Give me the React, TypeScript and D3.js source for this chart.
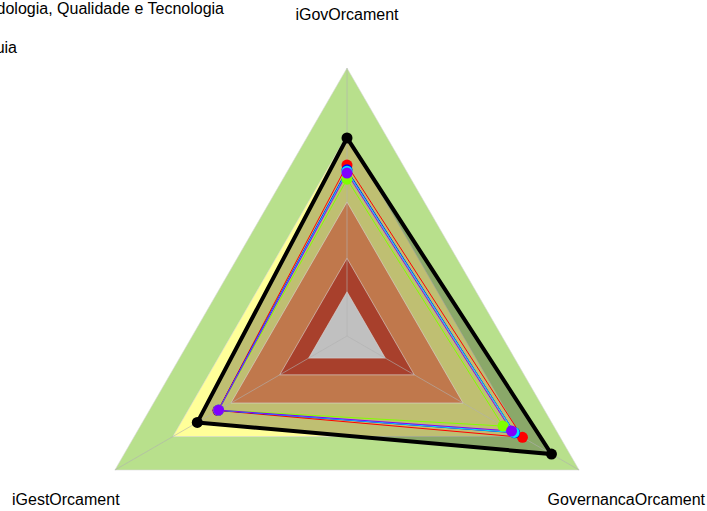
import React, { useEffect, useRef } from "react";
import * as d3 from "d3";

const axes = ["iGovOrcament", "GovernancaOrcament", "iGestOrcament"];

// background bands (outer limit of each band, 0..1)
const bandLimits = [1.0, 0.75, 0.5, 0.29, 0.165];
const bandColors = ["#b8e08c", "#ffff99", "#c0784c", "#a8402c", "#c0c0c0"];

const seriesNames = ["Geral", "s1", "s2", "s3", "s4", "s5"];
const seriesColors = ["#000000", "#ff0000", "#0000ff", "#00e0ff", "#8000ff", "#80ff00"];
const seriesValues = [
  [0.739, 0.881, 0.645],
  [0.638, 0.756, 0.556],
  [0.62, 0.722, 0.555],
  [0.615, 0.72, 0.553],
  [0.608, 0.709, 0.553],
  [0.585, 0.672, 0.553],
];

const legendLabels = ["Metodologia, Qualidade e Tecnologia", "Ouvidoria e Guia"];

const App = () => {
  const ref = useRef<SVGSVGElement>(null);

  useEffect(() => {
    const width = 707;
    const height = 511;
    const cx = 347;
    const cy = 336;
    const R = 268;

    const svg = d3.select(ref.current);
    svg.selectAll("*").remove();
    svg.attr("width", width).attr("height", height);

    const r = d3.scaleLinear().domain([0, 1]).range([0, R]);
    const angle = d3
      .scaleLinear()
      .domain([0, axes.length])
      .range([0, 2 * Math.PI]);

    const pt = (v: number, i: number): [number, number] => [
      cx + r(v) * Math.sin(angle(i)),
      cy - r(v) * Math.cos(angle(i)),
    ];
    const poly = (vals: number[]) =>
      d3.line<number>()
        .x((v, i) => pt(v, i)[0])
        .y((v, i) => pt(v, i)[1])
        .curve(d3.curveLinearClosed)(vals);

    const g = svg.append("g");

    const drawBand = (k: number) =>
      g
        .append("path")
        .attr("d", poly(axes.map(() => bandLimits[k])))
        .attr("fill", bandColors[k])
        .attr("stroke", "#d8d8d8")
        .attr("stroke-width", 0.6);

    drawBand(0);
    drawBand(1);

    // semi-transparent fill of the general series
    g.append("path")
      .attr("d", poly(seriesValues[0]))
      .attr("fill", "#000")
      .attr("fill-opacity", 0.25);

    drawBand(2);
    drawBand(3);
    drawBand(4);

    // axis lines
    axes.forEach((_, i) => {
      const [x, y] = pt(1, i);
      g.append("line")
        .attr("x1", cx)
        .attr("y1", cy)
        .attr("x2", x)
        .attr("y2", y)
        .attr("stroke", "#b0b0b0")
        .attr("stroke-opacity", 0.6)
        .attr("stroke-width", 1);
    });

    // series lines, smallest last on top
    const order = [1, 2, 3, 5, 4, 0];
    order.forEach((s) => {
      g.append("path")
        .attr("d", poly(seriesValues[s]))
        .attr("fill", "none")
        .attr("stroke", seriesColors[s])
        .attr("stroke-width", s === 0 ? 4 : 1);
    });
    order.forEach((s) => {
      seriesValues[s].forEach((v, i) => {
        const [x, y] = pt(v, i);
        g.append("circle")
          .attr("cx", x)
          .attr("cy", y)
          .attr("r", 5.5)
          .attr("fill", seriesColors[s]);
      });
    });

    // axis labels
    const font = "Liberation Sans, Arial, sans-serif";
    svg
      .append("text")
      .text(axes[0])
      .attr("x", cx)
      .attr("y", 20)
      .attr("text-anchor", "middle");
    svg
      .append("text")
      .text(axes[1])
      .attr("x", 705)
      .attr("y", 505)
      .attr("text-anchor", "end");
    svg
      .append("text")
      .text(axes[2])
      .attr("x", 12)
      .attr("y", 505)
      .attr("text-anchor", "start");

    // legend (runs past the left edge, as in the original)
    legendLabels.forEach((l, i) => {
      svg
        .append("text")
        .text(l)
        .attr("x", i === 0 ? 224 : 17)
        .attr("y", 14 + i * 39)
        .attr("text-anchor", "end");
    });

    svg
      .selectAll("text")
      .attr("font-family", font)
      .attr("font-size", "16px")
      .attr("fill", "#000");
  }, []);

  return (
    <svg
      ref={ref}
      style={{ position: "absolute", left: 0, top: 0, display: "block" }}
    ></svg>
  );
};

export default App;
